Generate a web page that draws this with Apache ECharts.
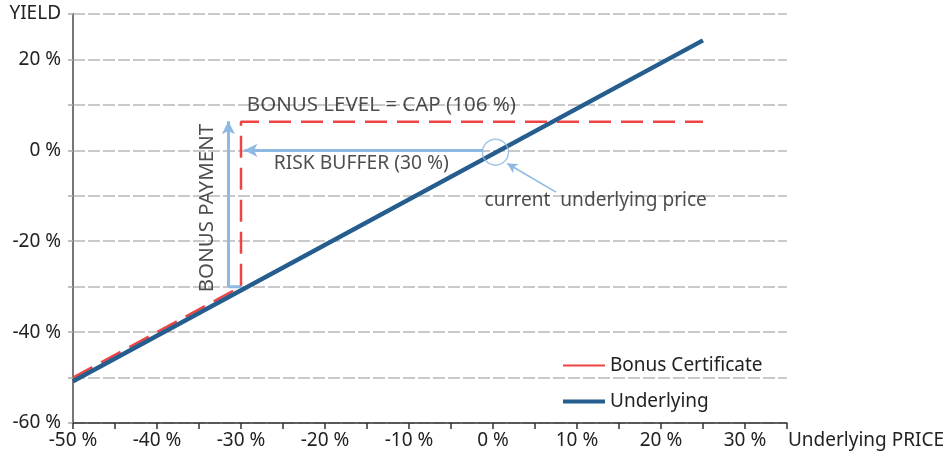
<!DOCTYPE html>
<html><head><meta charset="utf-8">
<script src="https://cdn.jsdelivr.net/npm/echarts@6/dist/echarts.min.js"></script>
<style>html,body{margin:0;padding:0;background:#fff}#c{width:947px;height:459px}</style>
</head><body><div id="c"></div>
<script>
// ---- data ----
const underlying = [[-50, -50.8], [25, 24.2]];
const bonusCertificate = [[-50, -50], [-30, -30], [-30, 6.3], [25, 6.3]];
const bonusPaymentArrow = [[-31.5, -30], [-31.5, 6.4]];
const bonusPaymentFoot = [[-31.5, -30], [-30, -30]];
const riskBufferArrow = [[-1.2, 0], [-29.6, 0]];
const pointerArrow = [[7.5, -9.2], [1.7, -2.9]];
const currentPrice = [[0.3, -0.4]];
const annotations = [
  {text: 'BONUS LEVEL = CAP (106 %)', at: [-29.3, 9.9], size: 20.5},
  {text: 'RISK BUFFER (30 %)', at: [-26.1, -2.9], size: 19.3},
  {text: 'current  underlying price', at: [-1.0, -11.0], size: 19.1}
];
const rotatedLabel = {text: 'BONUS PAYMENT', at: [-34.0, -12.7]};
const xTicks = [-50, -40, -30, -20, -10, 0, 10, 20, 30];
const yTicks = [20, 0, -20, -40, -60];
const yTopLabel = 'YIELD';
const xName = 'Underlying PRICE';

const FONT = 'Noto Sans';
const TXT = '#222';
const LB = '#8db9e2';
const RED = '#ef4444';
const BLUE = '#255d8e';

const chart = echarts.init(document.getElementById('c'));
chart.setOption({
  animation: false,
  textStyle: {fontFamily: FONT},
  grid: {left: 73, right: 157, top: 14, bottom: 36, containLabel: false},
  legend: {
    orient: 'vertical', left: 558, top: 351, itemWidth: 42, itemHeight: 14, itemGap: 17,
    textStyle: {fontSize: 19, color: TXT, fontFamily: FONT},
    data: [
      {name: 'Bonus Certificate', icon: 'path://M0,6L40,6L40,8L0,8Z', itemStyle: {color: RED}},
      {name: 'Underlying', icon: 'path://M0,5L40,5L40,9L0,9Z', itemStyle: {color: BLUE}}
    ]
  },
  xAxis: {
    type: 'value', min: -50, max: 35, interval: 5,
    name: xName, nameLocation: 'end', nameGap: 1,
    nameTextStyle: {fontSize: 19, color: TXT, verticalAlign: 'top', padding: [8, 0, 0, 0], fontFamily: FONT},
    axisLine: {show: true, onZero: false, lineStyle: {color: '#333', width: 1.5}},
    axisTick: {show: true, length: 6, lineStyle: {color: '#333', width: 1.5}},
    splitLine: {show: false},
    axisLabel: {fontSize: 19, color: TXT, margin: 8, fontFamily: FONT,
      formatter: v => xTicks.includes(v) ? v + ' %' : ''}
  },
  yAxis: {
    type: 'value', min: -60, max: 30, interval: 10,
    axisLine: {show: true, onZero: false, lineStyle: {color: '#777', width: 2}},
    axisTick: {show: true, length: 5, lineStyle: {color: '#aaa', width: 1.5}},
    splitLine: {show: true, lineStyle: {color: '#b8b8b8', width: 1.5, type: [12, 3]}},
    axisLabel: {fontSize: 19, color: TXT, margin: 12, fontFamily: FONT,
      formatter: v => v === 30 ? yTopLabel : (yTicks.includes(v) ? v + ' %' : '')}
  },
  series: [
    {name: 'Underlying', type: 'line', data: underlying, symbol: 'none', z: 5,
      lineStyle: {color: BLUE, width: 4.5}, itemStyle: {color: BLUE}},
    {name: 'Bonus Certificate', type: 'line', data: bonusCertificate, symbol: 'none', z: 4,
      lineStyle: {color: RED, width: 2.5, type: [22, 10]}, itemStyle: {color: RED}},
    {type: 'line', data: bonusPaymentFoot, symbol: 'none', z: 3, silent: true,
      lineStyle: {color: LB, width: 3}},
    {type: 'line', data: [], z: 3, silent: true,
      markLine: {silent: true, symbol: ['none', 'arrow'], symbolSize: [10, 13], label: {show: false},
        lineStyle: {color: LB, width: 3, type: 'solid'},
        data: [
          [{coord: bonusPaymentArrow[0]}, {coord: bonusPaymentArrow[1]}],
          [{coord: riskBufferArrow[0]}, {coord: riskBufferArrow[1]}]
        ]}},
    {type: 'line', data: [], z: 3, silent: true,
      markLine: {silent: true, symbol: ['none', 'arrow'], symbolSize: [8, 10], label: {show: false},
        lineStyle: {color: LB, width: 1.5, type: 'solid'},
        data: [[{coord: pointerArrow[0]}, {coord: pointerArrow[1]}]]}},
    {type: 'scatter', data: currentPrice, symbol: 'circle', symbolSize: 26, z: 6, silent: true,
      itemStyle: {color: 'rgba(0,0,0,0)', borderColor: LB, borderWidth: 1.5}},
    {type: 'scatter', silent: true, z: 7, symbolSize: 0,
      data: annotations.map(a => ({value: a.at, label: {show: true, formatter: a.text, position: 'right', distance: 0,
        fontSize: a.size, color: TXT, fontFamily: FONT}}))},
    {type: 'scatter', silent: true, z: 7, symbolSize: 0,
      data: [{value: rotatedLabel.at, label: {show: true, formatter: rotatedLabel.text, position: 'inside',
        rotate: 90, fontSize: 20.5, color: TXT, fontFamily: FONT}}]}
  ]
});
</script></body></html>
